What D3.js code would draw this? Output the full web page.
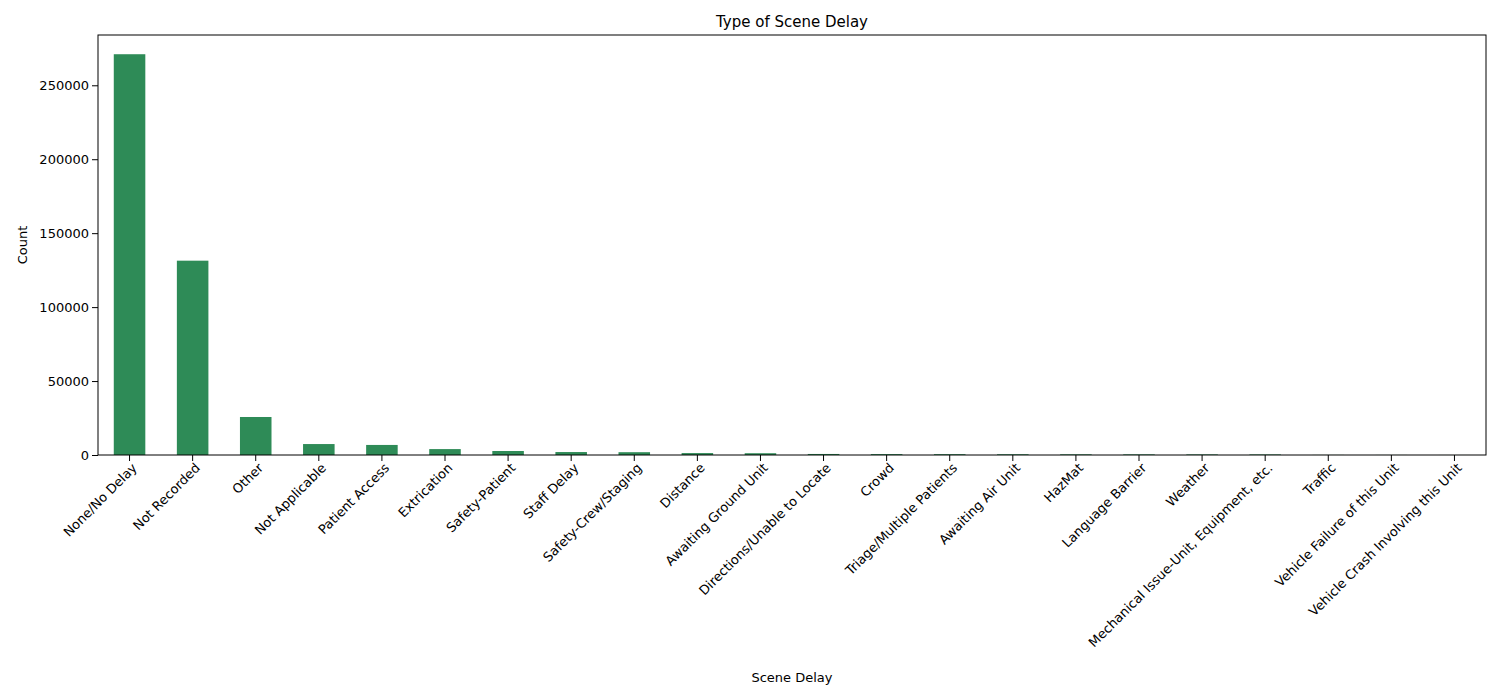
<!DOCTYPE html>
<html><head><meta charset="utf-8">
<script src="https://cdn.jsdelivr.net/npm/d3@7"></script>
<style>body{margin:0;background:#fff;font-family:"DejaVu Sans",sans-serif}</style>
</head><body><svg id="c" width="1500" height="700"></svg>
<script>
const categories=["None/No Delay","Not Recorded","Other","Not Applicable","Patient Access","Extrication","Safety-Patient","Staff Delay","Safety-Crew/Staging","Distance","Awaiting Ground Unit","Directions/Unable to Locate","Crowd","Triage/Multiple Patients","Awaiting Air Unit","HazMat","Language Barrier","Weather","Mechanical Issue-Unit, Equipment, etc.","Traffic","Vehicle Failure of this Unit","Vehicle Crash Involving this Unit"];
const counts=[271000,131400,25700,7400,6800,4000,2700,2000,1900,1300,1200,700,600,550,500,450,420,400,380,60,40,20];
const yTicks=[0,50000,100000,150000,200000,250000];
const svg=d3.select("#c");
const L=98,R=1486,T=35,B=455;
const x=d3.scaleBand().domain(categories).range([L,R]).paddingInner(0.5).paddingOuter(0.25);
const y=d3.scaleLinear().domain([0,284000]).range([B,T]);
svg.selectAll("rect.b").data(categories).enter().append("rect").attr("x",d=>x(d)).attr("width",x.bandwidth())
 .attr("y",(d,i)=>y(counts[i])).attr("height",(d,i)=>B-y(counts[i])).attr("fill","#2e8b57");
const ya=svg.append("g").attr("transform",`translate(${L},0)`).call(d3.axisLeft(y).tickValues(yTicks).tickFormat(d3.format("d")).tickSizeOuter(0));
const xa=svg.append("g").attr("transform",`translate(0,${B})`).call(d3.axisBottom(x).tickSizeOuter(0));
xa.selectAll("text").attr("transform","rotate(-45)").attr("text-anchor","end").attr("dx","-0.3em").attr("dy","0.5em");
[ya,xa].forEach(a=>{a.selectAll("text").attr("font-size",13).attr("fill","#000").attr("font-family","DejaVu Sans");a.selectAll("line,path").attr("stroke","#000");a.select(".domain").remove();});
svg.append("rect").attr("x",L).attr("y",T).attr("width",R-L).attr("height",B-T).attr("fill","none").attr("stroke","#000");
svg.append("text").attr("x",(L+R)/2).attr("y",27).attr("text-anchor","middle").attr("font-size",15).text("Type of Scene Delay");
svg.append("text").attr("x",(L+R)/2).attr("y",682).attr("text-anchor","middle").attr("font-size",13).text("Scene Delay");
svg.append("text").attr("transform",`translate(27,${(T+B)/2}) rotate(-90)`).attr("text-anchor","middle").attr("font-size",13).text("Count");
</script></body></html>
